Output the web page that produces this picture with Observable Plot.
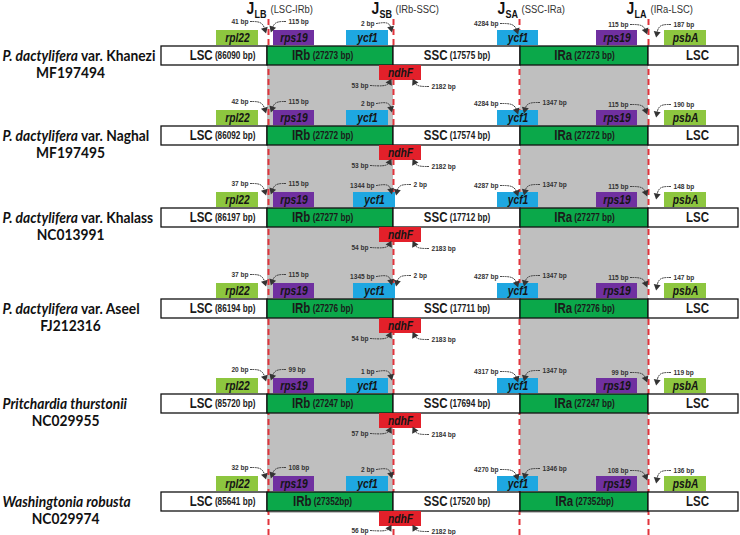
<!DOCTYPE html>
<html><head><meta charset="utf-8">
<script src="https://cdn.jsdelivr.net/npm/d3@7"></script>
<script src="https://cdn.jsdelivr.net/npm/@observablehq/plot@0.6"></script>
<style>body{margin:0;background:#fff;} #chart svg{display:block;}</style>
</head><body><div id="chart"></div>
<script>
// ---------- data ----------
const speciesItalic = ["P. dactylifera","P. dactylifera","P. dactylifera","P. dactylifera","Pritchardia thurstonii","Washingtonia robusta"];
const speciesRest = [" var. Khanezi"," var. Naghal"," var. Khalass"," var. Aseel","",""];
const accessions = ["MF197494","MF197495","NC013991","FJ212316","NC029955","NC029974"];
const lscLen = [86090,86092,86197,86194,85720,85641];
const irbLen = [27273,27272,27277,27276,27247,27352];
const sscLen = [17575,17574,17712,17711,17694,17520];
const iraLen = [27273,27272,27277,27276,27247,27352];
const irUnit = [" bp"," bp"," bp"," bp"," bp","bp"];
const junctions = ["LB","SB","SA","LA"];
const junctionNames = ["(LSC-IRb)","(IRb-SSC)","(SSC-IRa)","(IRa-LSC)"];
const rpl22Gap = [41,42,37,37,20,32];
const rps19bIn = [115,115,115,115,99,108];
const ycf1bIrb = [2,2,1344,1345,1,2];
const ycf1bSsc = [null,null,2,2,null,null];
const ndhFIrb = [53,53,54,54,57,56];
const ndhFSsc = [2182,2182,2183,2183,2184,2182];
const ycf1aSsc = [4284,4284,4287,4287,4317,4270];
const ycf1aIra = [null,1347,1347,1347,1347,1346];
const rps19aGap = [115,115,115,115,99,108];
const psbAGap = [187,190,148,147,119,136];

// ---------- layout ----------
const W = 740, H = 535;
const rowTop = [46,126,208,299,394,492];
const barH = 19;
const edges = [161,267,393,520,648,738];
const jx = [268,393,519,648];
const segOff = [8,-8,0,0,4];
const C = {ir:"#0BA84A", light:"#8DC63F", purple:"#7030A0", blue:"#1EA7E1", red:"#E3202A", gray:"#BFBFBF", dash:"#E2343C", ink:"#333"};
const rows = d3.range(6);

const segs = [], segLabels = [];
rows.forEach(i => {
  const T = rowTop[i];
  const labels = [`LSC (${lscLen[i]} bp)`, `IRb (${irbLen[i]}${irUnit[i]})`, `SSC (${sscLen[i]} bp)`, `IRa (${iraLen[i]}${irUnit[i]})`, "LSC"];
  const fills = ["#fff", C.ir, "#fff", C.ir, "#fff"];
  for (let k = 0; k < 5; k++) {
    segs.push({x1: edges[k], x2: edges[k+1], y1: T, y2: T + barH, fill: fills[k]});
    segLabels.push({x: (edges[k] + edges[k+1]) / 2 + segOff[k], y: T + barH / 2, text: labels[k]});
  }
});

const genes = [];
rows.forEach(i => {
  const T = rowTop[i], B = T + barH;
  const spans = ycf1bSsc[i] != null;
  genes.push({name:"rpl22", x1:216, x2:258, y1:T-16, y2:T-1, fill:C.light});
  genes.push({name:"rps19", x1:273, x2:314, y1:T-16, y2:T-1, fill:C.purple});
  genes.push({name:"ycf1", x1:spans?353:346, x2:spans?395:388, y1:T-16, y2:T-1, fill:C.blue});
  genes.push({name:"ndhF", x1:379, x2:421, y1:B, y2:B+15, fill:C.red});
  genes.push({name:"ycf1", x1:497, x2:538, y1:T-16, y2:T-1, fill:C.blue});
  genes.push({name:"rps19", x1:596, x2:637, y1:T-16, y2:T-1, fill:C.purple});
  genes.push({name:"psbA", x1:664, x2:706, y1:T-16, y2:T-1, fill:C.light});
});

const ann = [], pts = [], heads = [];
function addAnn(v, tx, anchor, ty, sx, sy, cx, cy, ex, ey) {
  const id = ann.length;
  ann.push({text: `${v} bp`, x: tx, y: ty, anchor});
  pts.push({id, x: sx, y: sy}, {id, x: cx, y: cy}, {id, x: ex, y: ey});
  const dx = ex - cx, dy = ey - cy, L = Math.hypot(dx, dy) || 1;
  heads.push({x: ex - dx / L * 2, y: ey - dy / L * 2, r: Math.atan2(dx, -dy) * 180 / Math.PI});
}
rows.forEach(i => {
  const T = rowTop[i], B = T + barH;
  const by = Math.min(B + 20, H - 5);
  addAnn(rpl22Gap[i], 248, "end", T-25, 250, T-25, 262, T-25, 265, T-15);
  addAnn(rps19bIn[i], 288, "start", T-25, 285, T-25, 274, T-25, 271, T-16);
  addAnn(ycf1bIrb[i], 374, "end", T-23, 376, T-23, 389, T-25, 391, T-16);
  if (ycf1bSsc[i] != null) addAnn(ycf1bSsc[i], 413, "start", T-24, 410, T-24, 398, T-24, 396, T-15);
  addAnn(ndhFIrb[i], 368, "end", by, 370, by, 387, by + 1, 390, B + 15);
  addAnn(ndhFSsc[i], 431, "start", by + 1, 428, by + 1, 416, by + 1, 413, B + 15);
  addAnn(ycf1aSsc[i], 498, "end", T-23, 500, T-23, 514, T-23, 517, T-14);
  if (ycf1aIra[i] != null) addAnn(ycf1aIra[i], 542, "start", T-24, 539, T-24, 526, T-24, 524, T-15);
  addAnn(rps19aGap[i], 628, "end", T-22, 630, T-22, 643, T-22, 646, T-14);
  addAnn(psbAGap[i], 673, "start", T-22, 670, T-22, 658, T-22, 656, T-11);
});
const annStart = ann.filter(d => d.anchor === "start");
const annEnd = ann.filter(d => d.anchor === "end");

const speciesFull = rows.map(i => speciesItalic[i] + speciesRest[i]);
const grayTop = rowTop[0] + barH, grayBot = rowTop[5] + barH + 2;
const shade = [{x1: edges[1], x2: edges[2]}, {x1: edges[3], x2: edges[4]}];

const FONT = "'Liberation Sans', Arial, sans-serif";
const annStyle = {x: "x", y: "y", text: "text", fontSize: 8, fontWeight: "bold", fill: C.ink, lineAnchor: "middle"};
const svg = Plot.plot({
  width: W, height: H, margin: 0,
  x: {domain: [0, W], range: [0, W], axis: null},
  y: {domain: [0, H], range: [0, H], axis: null},
  style: {background: "#fff", fontFamily: FONT},
  marks: [
    Plot.rect(shade, {x1: "x1", x2: "x2", y1: grayTop, y2: grayBot, fill: C.gray}),
    Plot.ruleX(jx, {y1: 19, y2: H, stroke: C.dash, strokeWidth: 2, strokeDasharray: "6,4"}),
    Plot.rect(segs, {x1: "x1", x2: "x2", y1: "y1", y2: "y2", fill: d => d.fill, stroke: "#111", strokeWidth: 1.3}),
    Plot.rect(genes, {x1: "x1", x2: "x2", y1: "y1", y2: "y2", fill: d => d.fill}),
    Plot.text(genes, {x: d => (d.x1 + d.x2) / 2, y: d => (d.y1 + d.y2) / 2, text: "name", fontSize: 12.5, fontWeight: "bold", fontStyle: "italic", fill: "#151515", lineAnchor: "middle"}),
    Plot.text(segLabels, {x: "x", y: "y", text: "text", fontSize: 14, fontWeight: "bold", fill: "#1a1a1a", lineAnchor: "middle"}),
    Plot.line(pts, {x: "x", y: "y", z: "id", curve: "basis", stroke: C.ink, strokeWidth: 1, strokeDasharray: "1,1.4"}),
    Plot.dot(heads, {x: "x", y: "y", rotate: "r", symbol: "triangle", r: 2.6, fill: C.ink, stroke: "none"}),
    Plot.text(annStart, {...annStyle, textAnchor: "start"}),
    Plot.text(annEnd, {...annStyle, textAnchor: "end"}),
    // headers
    Plot.text(jx, {x: d => d - 22, y: 8.5, text: (d, i) => "J", textAnchor: "start", fontSize: 17, fontWeight: "bold", fill: "#111", lineAnchor: "middle"}),
    Plot.text(jx, {x: d => d - 14, y: 13.5, text: (d, i) => junctions[i], textAnchor: "start", fontSize: 11, fontWeight: "bold", fill: "#111", lineAnchor: "middle"}),
    Plot.text(jx, {x: d => d + 2, y: 8.5, text: (d, i) => junctionNames[i], textAnchor: "start", fontSize: 11.5, fill: "#333", lineAnchor: "middle"}),
    // species
    Plot.text(rows, {x: 2, y: i => rowTop[i] + barH / 2, text: i => speciesFull[i], textAnchor: "start", fontFamily: "Lato, 'Noto Sans', sans-serif", fontSize: 15, fontWeight: "bold", fill: "#111", lineAnchor: "middle"}),
    Plot.text(rows, {x: i => i < 4 ? 70 : 65, y: i => rowTop[i] + barH / 2 + 17, text: i => accessions[i], textAnchor: "middle", fontFamily: "Lato, 'Noto Sans', sans-serif", fontSize: 15, fontWeight: "bold", fill: "#111", lineAnchor: "middle"})
  ]
});

// ---------- post-processing: mixed styles and condensed text ----------
const NS = "http://www.w3.org/2000/svg";
const segSet = new Set(segLabels.map(d => d.text));
function compress(t, k) {
  const tr = t.getAttribute("transform") || "";
  t.setAttribute("transform", (tr + ` scale(${k},1)`).trim());
}
svg.querySelectorAll("text").forEach(t => {
  if (t.querySelector("tspan")) return;
  const s = t.textContent;
  const si = speciesFull.indexOf(s);
  if (si >= 0) {
    t.textContent = "";
    const a = document.createElementNS(NS, "tspan");
    a.setAttribute("font-style", "italic"); a.textContent = speciesItalic[si]; t.appendChild(a);
    if (speciesRest[si]) {
      const b = document.createElementNS(NS, "tspan");
      b.setAttribute("font-style", "normal"); b.textContent = speciesRest[si]; t.appendChild(b);
    }
    compress(t, 0.92);
    return;
  }
  if (accessions.includes(s)) { compress(t, 0.92); return; }
  if (segSet.has(s) && s.includes(" (")) {
    const k = s.indexOf(" (");
    t.textContent = "";
    const a = document.createElementNS(NS, "tspan"); a.textContent = s.slice(0, k); t.appendChild(a);
    const b = document.createElementNS(NS, "tspan");
    b.setAttribute("font-size", "10"); b.setAttribute("dy", "-1.5"); b.textContent = "\u00a0" + s.slice(k + 1); t.appendChild(b);
  }
  compress(t, 0.82);
});
document.getElementById("chart").appendChild(svg);
</script></body></html>
